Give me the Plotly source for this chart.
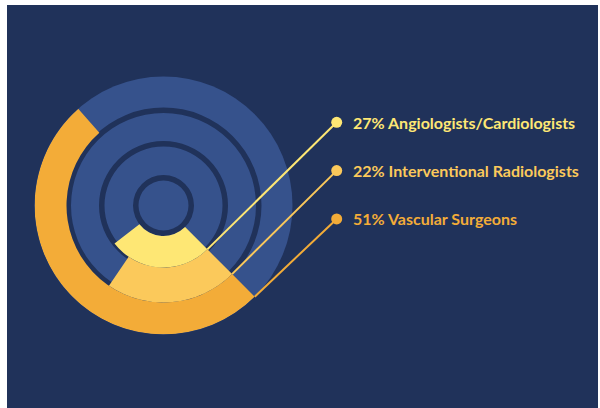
import math
import plotly.graph_objects as go

# ---- data ----
categories = ["Angiologists/Cardiologists", "Interventional Radiologists", "Vascular Surgeons"]
percentages = [27, 22, 51]
colors = ["#fee774", "#fbc95b", "#f3ac38"]

# ---- style / layout constants ----
W, H = 600, 408
NAVY = "#20325a"
TRACK = "#36528c"
CX, CY, R = 163.5, 205.5, 129.0           # disc centre / radius (px)
START = 135.0                              # start angle, clockwise from 12 o'clock
band_base = [30.5, 62.0, 97.0]             # radial extent of each coloured band
band_top = [62.0, 97.0, 129.0]
ring_outer = [30.5, 64.5, 98.0]            # dark separator rings
ring_thick = 5.5
dot_x = 336.7
row_y = [122.3, 170.6, 218.9]
text_x = 351

fig = go.Figure()

# dark separator rings
fig.add_trace(go.Barpolar(
    r=[ring_thick] * len(ring_outer),
    base=[ro - ring_thick for ro in ring_outer],
    theta=[0] * len(ring_outer),
    width=[360] * len(ring_outer),
    marker=dict(color=NAVY, line=dict(width=0)),
    hoverinfo="skip", showlegend=False,
))

# coloured sectors (outermost first)
for i in [2, 1, 0]:
    span = percentages[i] * 3.6
    fig.add_trace(go.Barpolar(
        r=[band_top[i] - band_base[i]],
        base=[band_base[i]],
        theta=[START + span / 2],
        width=[span],
        marker=dict(color=colors[i], line=dict(width=0)),
        name=categories[i], hoverinfo="skip", showlegend=False,
    ))

# leader lines (shapes so they sit on top of the disc)
shapes = []
a = math.radians(START)
for i in range(3):
    x0 = CX + band_top[i] * math.sin(a)
    y0 = CY - band_top[i] * math.cos(a)
    shapes.append(dict(type="line", xref="x", yref="y", x0=x0, y0=y0,
                       x1=dot_x, y1=row_y[i], layer="above",
                       line=dict(color=colors[i], width=2)))

# white page edges around the navy card
shapes += [
    dict(type="rect", xref="paper", yref="paper", x0=0, x1=7 / W, y0=0, y1=1,
         fillcolor="white", line=dict(width=0), layer="above"),
    dict(type="rect", xref="paper", yref="paper", x0=0, x1=1, y0=1 - 5 / H, y1=1,
         fillcolor="white", line=dict(width=0), layer="above"),
    dict(type="rect", xref="paper", yref="paper", x0=598 / W, x1=1, y0=0, y1=1,
         fillcolor="white", line=dict(width=0), layer="above"),
]

# dots
fig.add_trace(go.Scatter(
    x=[dot_x] * 3, y=row_y, mode="markers",
    marker=dict(size=11, color=colors, line=dict(width=0)),
    hoverinfo="skip", showlegend=False,
))

annotations = []
for i in range(3):
    annotations.append(dict(
        x=text_x, y=row_y[i], xref="x", yref="y", xanchor="left", yanchor="middle",
        text=f"{percentages[i]}% {categories[i]}", showarrow=False,
        font=dict(family="Lato", size=16, color=colors[i], weight=700),
    ))

fig.update_layout(
    template="none",
    width=W, height=H,
    margin=dict(l=0, r=0, t=0, b=0, pad=0),
    paper_bgcolor=NAVY,
    plot_bgcolor="rgba(0,0,0,0)",
    xaxis=dict(range=[0, W], domain=[0, 1], visible=False, fixedrange=True),
    yaxis=dict(range=[H, 0], domain=[0, 1], visible=False, fixedrange=True),
    polar=dict(
        domain=dict(x=[(CX - R) / W, (CX + R) / W],
                    y=[(H - CY - R) / H, (H - CY + R) / H]),
        bgcolor=TRACK,
        hole=0,
        radialaxis=dict(range=[0, R], visible=False, showgrid=False),
        angularaxis=dict(rotation=90, direction="clockwise", visible=False,
                         showgrid=False),
        bargap=0,
    ),
    shapes=shapes,
    annotations=annotations,
    showlegend=False,
)

fig.write_html(
    "out.html",
    config={"displayModeBar": False},
    post_script="document.body.style.margin='0';document.body.style.padding='0';"
                "document.body.style.overflow='hidden';",
)
